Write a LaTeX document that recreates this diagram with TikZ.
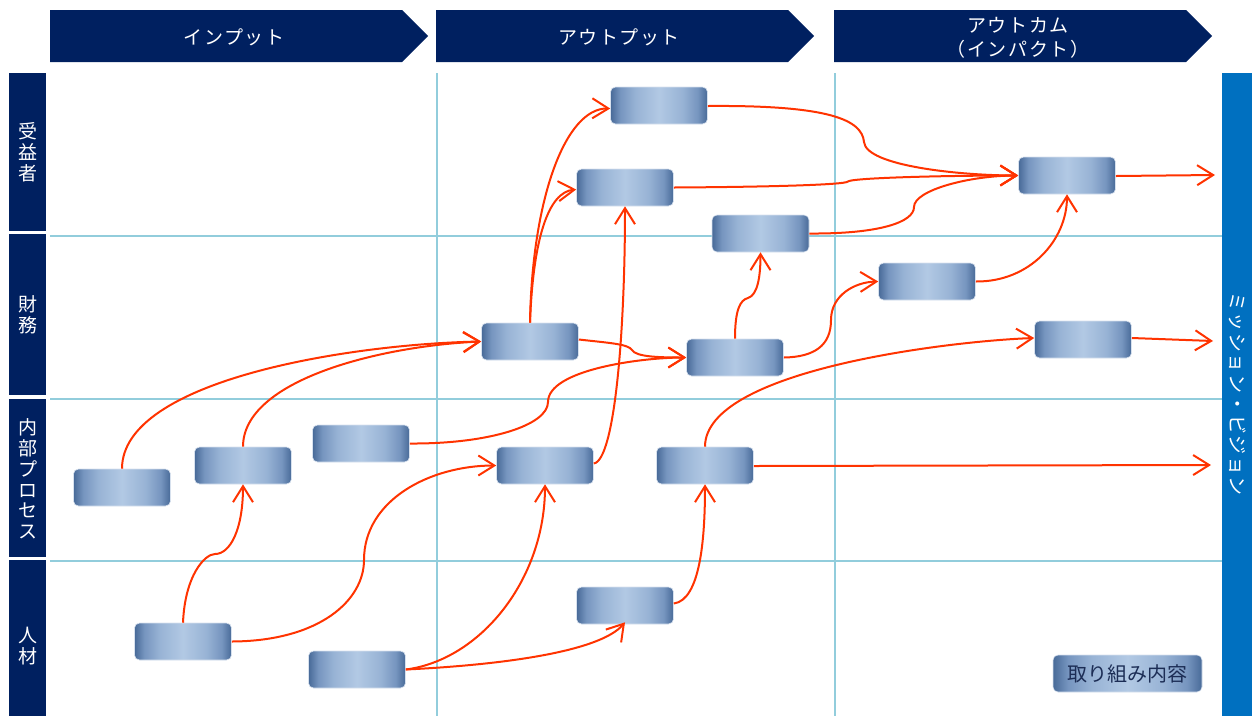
\documentclass[tikz,border=0pt]{standalone}
\usepackage{fontspec}
\setmainfont{Noto Sans CJK JP}
\usetikzlibrary{arrows.meta}
\definecolor{navy}{RGB}{0,32,96}
\definecolor{gridc}{RGB}{146,205,220}
\definecolor{barblue}{RGB}{0,112,192}
\definecolor{connc}{RGB}{255,51,0}
\definecolor{bdark}{RGB}{72,106,152}
\definecolor{bmid}{RGB}{118,149,191}
\definecolor{bmid2}{RGB}{152,179,213}
\definecolor{blight}{RGB}{178,201,228}
\definecolor{bedge}{RGB}{215,225,238}
\definecolor{legtext}{RGB}{28,45,85}
\pgfdeclarehorizontalshading{boxshade}{100bp}{color(0bp)=(bdark); color(25bp)=(bdark); color(30bp)=(bmid); color(38bp)=(bmid2); color(50bp)=(blight); color(62bp)=(bmid2); color(70bp)=(bmid); color(75bp)=(bdark); color(100bp)=(bdark)}
\begin{document}
\begin{tikzpicture}[x=1pt,y=-1pt,
 box/.style={rounded corners=5pt, minimum width=97pt, minimum height=37pt, inner sep=0pt,
   shading=boxshade, draw=bedge, line width=0.6pt},
 conn/.style={draw=connc, line width=2pt, -{Straight Barb[length=16pt,width=20pt]}},
 hdr/.style={fill=navy},
 hdrtext/.style={text=white, font=\fontsize{19}{24}\selectfont\addfontfeature{LetterSpace=8}, align=center},
 sidetext/.style={text=white, font=\fontsize{19}{20.8}\selectfont, align=center},
 gridline/.style={draw=gridc, line width=2pt}]
\useasboundingbox (0,0) rectangle (1252,716);
% headers
\fill[hdr] (50,10) -- (402,10) -- (428,36) -- (402,62) -- (50,62) -- cycle;
\fill[hdr] (436,10) -- (788,10) -- (814,36) -- (788,62) -- (436,62) -- cycle;
\fill[hdr] (834,10) -- (1186,10) -- (1212,36) -- (1186,62) -- (834,62) -- cycle;
\node[hdrtext] (h1) at (234,37) {インプット};
\node[hdrtext] (h2) at (619,37) {アウトプット};
\node[hdrtext] (h3) at (1018,38) {アウトカム\\（インパクト）};
% grid
\draw[gridline] (50,235.5) -- (1222,235.5);
\draw[gridline] (50,399) -- (1222,399);
\draw[gridline] (50,561) -- (1222,561);
\draw[gridline] (437,73) -- (437,716);
\draw[gridline] (835,73) -- (835,716);
% side bars
\fill[navy] (9,73) rectangle (46,231);
\fill[navy] (9,234) rectangle (46,395);
\fill[navy] (9,399) rectangle (46,557);
\fill[navy] (9,560) rectangle (46,716);
\node[sidetext] (s1) at (27.5,152) {受\\益\\者};
\node[sidetext] (s2) at (27.5,315) {財\\務};
\node[sidetext] (s3) at (27.5,479) {内\\部\\プ\\ロ\\セ\\ス};
\node[sidetext] (s4) at (27.5,646) {人\\材};
% right bar
\fill[barblue] (1222,73) rectangle (1252,716);
\node[text=white, font=\fontsize{19}{20}\selectfont\addfontfeature{LetterSpace=8}, rotate=-90] (mv) at (1238,394) {ミッション・ビジョン};
% boxes
\node[box] (b1) at (659,105.5) {};
\node[box] (b2) at (625,187.5) {};
\node[box] (b3) at (760.5,233.5) {};
\node[box] (b4) at (1067,175.5) {};
\node[box] (b5) at (530,341.5) {};
\node[box] (b6) at (735,357.5) {};
\node[box] (b7) at (927,281.5) {};
\node[box] (b8) at (1083,339.5) {};
\node[box] (b9) at (122,487.5) {};
\node[box] (b10) at (243,465.5) {};
\node[box] (b11) at (361,443.5) {};
\node[box] (b12) at (545,465.5) {};
\node[box] (b13) at (705,465.5) {};
\node[box] (b14) at (183,641.5) {};
\node[box] (b15) at (357,669.5) {};
\node[box] (b16) at (625,605.5) {};
\node[box, minimum width=149pt, text=legtext, font=\fontsize{20}{20}\selectfont] (leg) at (1127.5,673.5) {取り組み内容};
% free ends
\coordinate (e4) at (1215,175);
\coordinate (e8) at (1213,341);
\coordinate (e13) at (1211,465);
% connectors
\draw[conn] ([yshift=-0.5pt]b1.east) .. controls (830,105) and (862,120) .. (864,142) .. controls (866,166) and (960,175.5) .. (b4.west);
\draw[conn] (b2.east) .. controls (760,187) and (845,185) .. (848,181.5) .. controls (851,178) and (940,175.5) .. (b4.west);
\draw[conn] (b3.east) .. controls (880,234) and (914,222) .. (914,207) .. controls (914,190) and (970,175.5) .. (b4.west);
\draw[conn] ([yshift=-0.5pt]b4.east) -- (e4);
\draw[conn] (b5.north) .. controls (532,200) and (565,108) .. ([yshift=-3pt]b1.west);
\draw[conn] (b5.north) .. controls (533,240) and (548,192) .. ([yshift=-2pt]b2.west);
\draw[conn] ([yshift=2pt]b5.east) .. controls (610,343) and (628,344) .. (632,350) .. controls (636,357) and (660,357.5) .. (b6.west);
\draw[conn] (b6.north) .. controls (735,310) and (740,300) .. (748,298) .. controls (758,295) and (760.5,275) .. (b3.south);
\draw[conn] (b6.east) .. controls (815,357) and (831,345) .. (831,320) .. controls (831,295) and (855,282) .. (b7.west);
\draw[conn] (b7.east) .. controls (1030,282) and (1067,240) .. (b4.south);
\draw[conn] ([yshift=1.5pt]b8.east) -- (e8);
\draw[conn] (b9.north) .. controls (122,380) and (350,344) .. (b5.west);
\draw[conn] (b10.north) .. controls (243,380) and (380,346) .. (b5.west);
\draw[conn] (b11.east) .. controls (490,444) and (548,425) .. (548,402) .. controls (548,370) and (640,357.5) .. (b6.west);
\draw[conn] ([yshift=2pt]b12.east) .. controls (615,460) and (625,330) .. (b2.south);
\draw[conn] (b13.north) .. controls (705,370) and (950,341) .. ([yshift=1.5pt]b8.west);
\draw[conn] ([yshift=-0.5pt]b13.east) -- (e13);
\draw[conn] (b14.north) .. controls (185,575) and (205,554) .. (215,554) .. controls (230,554) and (243,530) .. (b10.south);
\draw[conn] (b14.east) .. controls (320,641) and (364,600) .. (364,560) .. controls (364,500) and (430,465.5) .. (b12.west);
\draw[conn] (b15.east) .. controls (480,660) and (545,580) .. (b12.south);
\draw[conn] (b15.east) .. controls (500,665) and (600,652) .. ([yshift=2pt]b16.south);
\draw[conn] ([yshift=2pt]b16.east) .. controls (700,600) and (705,540) .. (b13.south);
\end{tikzpicture}
\end{document}
